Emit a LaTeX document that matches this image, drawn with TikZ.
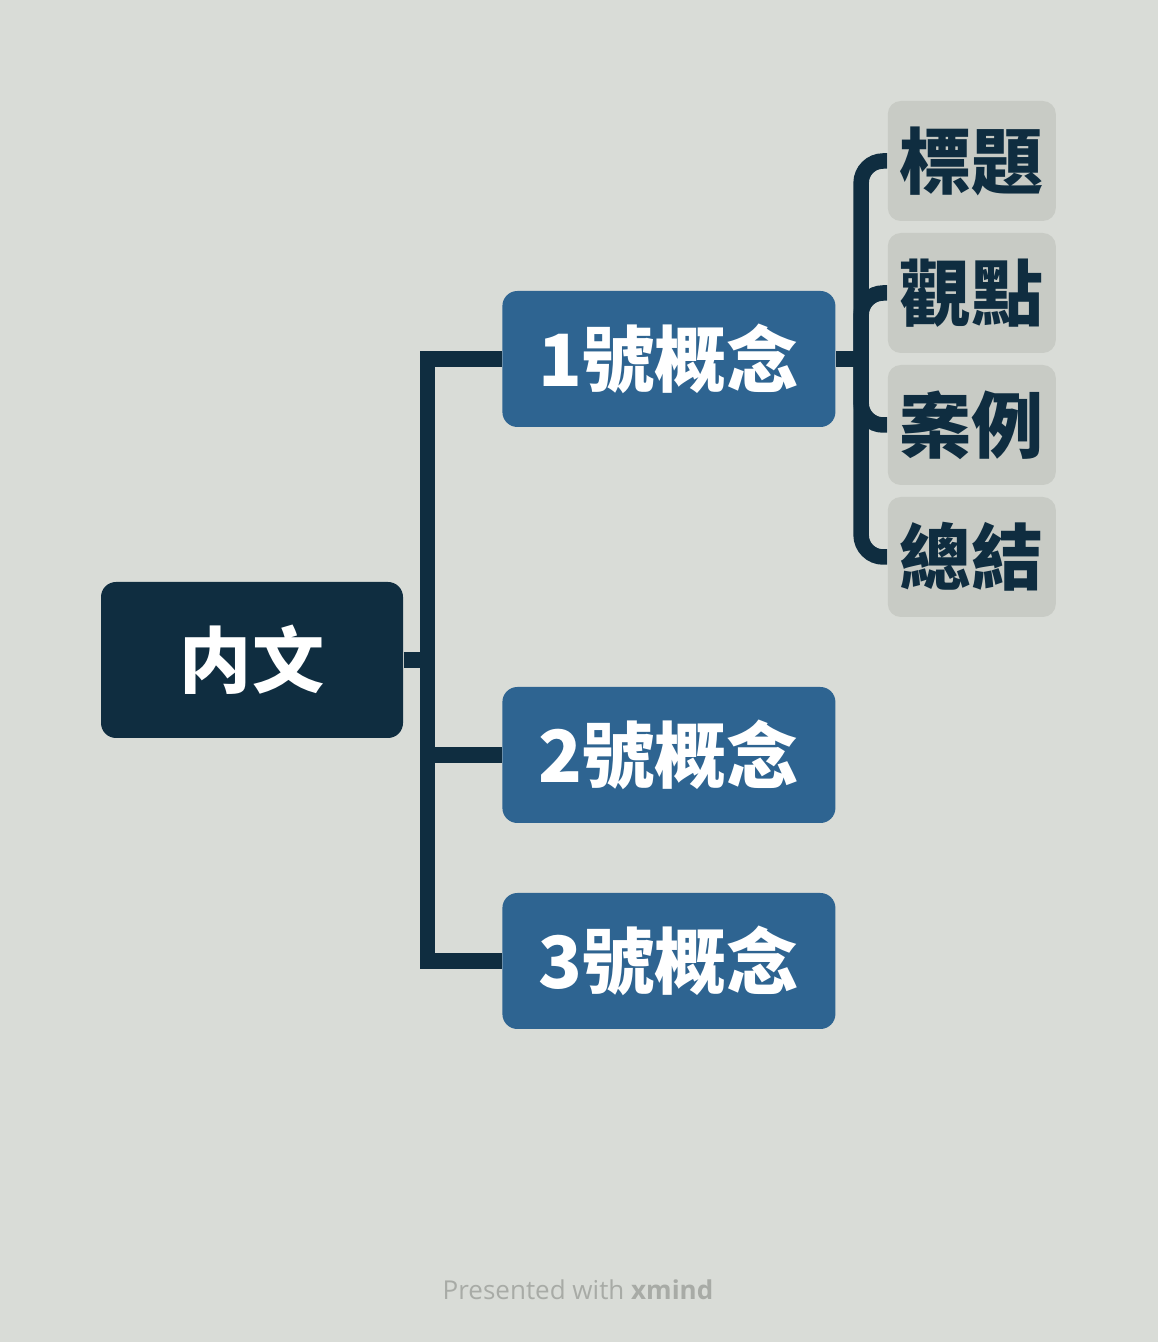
\documentclass[tikz,border=0pt]{standalone}
\usepackage{fontspec}
\newfontfamily\cjk{Noto Sans CJK TC}
\newfontfamily\footfont{Open Sans}
\usetikzlibrary{positioning}

\definecolor{PageGray}{RGB}{217, 220, 215}
\definecolor{RootNavy}{RGB}{15, 45, 64}
\definecolor{TopicBlue}{RGB}{46, 100, 145}
\definecolor{LeafGray}{RGB}{200, 203, 197}
\definecolor{FootGray}{RGB}{168, 171, 166}

\begin{document}
\begin{tikzpicture}[
                root/.style={rectangle, fill=RootNavy, text=white,
                            minimum width=3.02cm, minimum height=1.56cm, inner sep=0pt,
                            font=\cjk\bfseries\fontsize{20.5pt}{21pt}\selectfont, rounded corners=0.15cm},
                topic/.style={rectangle, fill=TopicBlue, text=white,
                            minimum width=3.33cm, minimum height=1.36cm, inner sep=0pt,
                            font=\cjk\bfseries\fontsize{20.5pt}{21pt}\selectfont, rounded corners=0.15cm},
                leaf/.style={rectangle, fill=LeafGray, text=RootNavy,
                            minimum width=1.68cm, minimum height=1.20cm, inner sep=0pt,
                            font=\cjk\bfseries\fontsize{20.5pt}{21pt}\selectfont, rounded corners=0.13cm},
                link/.style={draw=RootNavy, line width=0.155cm}
            ]
                \fill[PageGray] (0,0) rectangle (11.58,13.42);
                \useasboundingbox (0,0) rectangle (11.58,13.42);

                \node[root] (root) at (2.52,6.82) {内文};
                \node[topic, right=0.98cm of root, yshift=3.01cm] (c1) {1號概念};
                \node[topic, right=0.98cm of root, yshift=-0.95cm] (c2) {2號概念};
                \node[topic, right=0.98cm of root, yshift=-3.01cm] (c3) {3號概念};

                \node[leaf, right=0.51cm of c1, yshift=1.98cm] (l1) {標題};
                \node[leaf, right=0.51cm of c1, yshift=0.66cm] (l2) {觀點};
                \node[leaf, right=0.51cm of c1, yshift=-0.66cm] (l3) {案例};
                \node[leaf, right=0.51cm of c1, yshift=-1.98cm] (l4) {總結};

                \coordinate[right=0.24cm of root] (trunk);
                \coordinate[right=0.25cm of c1] (bar);

                \draw[link] (root.east) -- (trunk);
                \draw[link] (c1.west) -| (trunk) |- (c3.west);
                \draw[link] (trunk |- c2.west) -- (c2.west);

                \draw[link] (c1.east) -- (bar);
                \draw[link, rounded corners=0.22cm] (bar) |- (l1.west);
                \draw[link, rounded corners=0.22cm] (bar) |- (l2.west);
                \draw[link, rounded corners=0.22cm] (bar) |- (l3.west);
                \draw[link, rounded corners=0.22cm] (bar) |- (l4.west);

                \node[text=FootGray, font=\footfont\fontsize{7.4pt}{8pt}\selectfont] (foot) at (5.78,0.52)
                    {Presented with \textbf{xmind}};
            \end{tikzpicture}
\end{document}
